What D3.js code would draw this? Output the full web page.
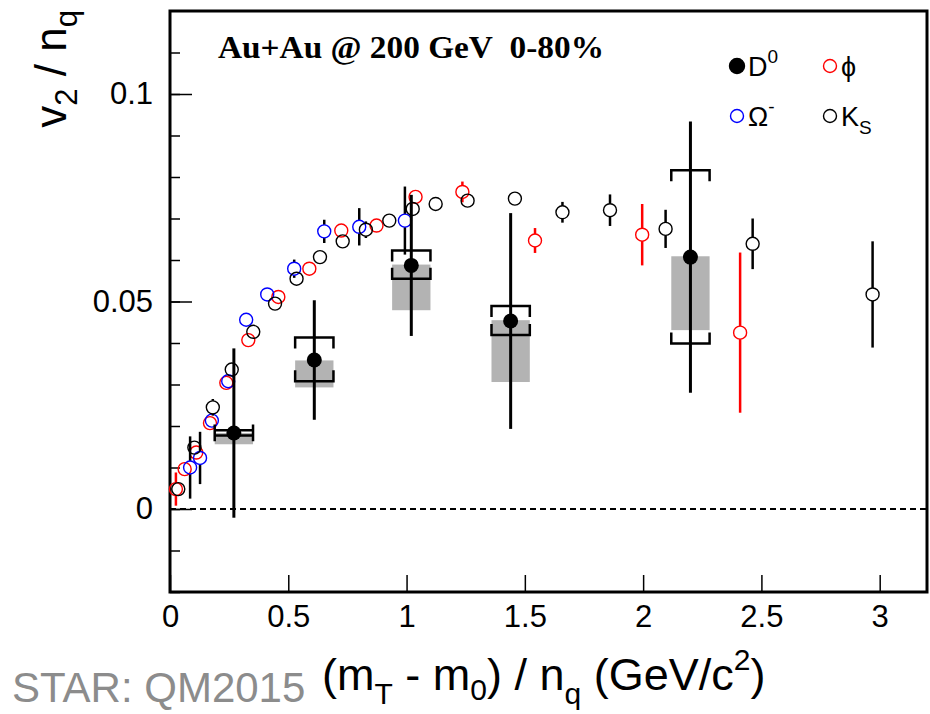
<!DOCTYPE html>
<html>
<head>
<meta charset="utf-8">
<script src="https://cdn.jsdelivr.net/npm/d3@7"></script>
<style>
  body { margin: 0; background: #fff; }
  svg { display: block; }
</style>
</head>
<body>
<div id="chart"></div>
<script>
// D0 points: value, stat error, systematic brackets and grey non-flow boxes
const d0X = [0.27, 0.61, 1.02, 1.44, 2.20];
const d0Y = [0.0183, 0.0359, 0.0587, 0.0453, 0.0607];
const d0Stat = [0.0204, 0.0144, 0.0170, 0.0260, 0.0327];
const d0SysHi = [0.0190, 0.0413, 0.0623, 0.0489, 0.0816];
const d0SysLo = [0.0177, 0.0308, 0.0555, 0.0419, 0.0399];
const d0BoxHi = [0.0183, 0.0358, 0.0589, 0.0455, 0.0609];
const d0BoxLo = [0.0156, 0.0293, 0.0479, 0.0306, 0.0431];

// phi (red open circles)
const phiX = [0.025, 0.062, 0.111, 0.169, 0.238, 0.331, 0.458, 0.589, 0.724, 0.873, 1.038, 1.236, 1.543, 1.996, 2.410];
const phiY = [0.0048, 0.0096, 0.0136, 0.0207, 0.0304, 0.0407, 0.0511, 0.0579, 0.0671, 0.0683, 0.0752, 0.0764, 0.0647, 0.0661, 0.0425];
const phiErr = [0.0040, 0.001, 0.001, 0.001, 0.001, 0.001, 0.001, 0.001, 0.001, 0.001, 0.001, 0.0025, 0.0030, 0.0074, 0.0193];

// Omega (blue open circles)
const omegaX = [0.085, 0.127, 0.177, 0.246, 0.322, 0.411, 0.525, 0.652, 0.800, 0.993];
const omegaY = [0.0100, 0.0123, 0.0213, 0.0308, 0.0456, 0.0517, 0.0579, 0.0669, 0.0680, 0.0695];
const omegaErr = [0.0075, 0.0063, 0.001, 0.001, 0.001, 0.001, 0.0022, 0.0028, 0.0045, 0.0082];

// K0s (black open circles)
const ksX = [0.035, 0.103, 0.181, 0.261, 0.352, 0.444, 0.535, 0.634, 0.730, 0.828, 0.927, 1.026, 1.123, 1.258, 1.458, 1.659, 1.860, 2.095, 2.463, 2.970];
const ksY = [0.0048, 0.0148, 0.0245, 0.0336, 0.0427, 0.0495, 0.0555, 0.0607, 0.0645, 0.0673, 0.0695, 0.0723, 0.0735, 0.0743, 0.0748, 0.0715, 0.0720, 0.0675, 0.0639, 0.0517];
const ksErr = [0.001, 0.001, 0.002, 0.001, 0.001, 0.001, 0.0015, 0.001, 0.001, 0.002, 0.001, 0.001, 0.001, 0.001, 0.001, 0.0025, 0.0038, 0.0046, 0.0061, 0.0128];

const xTicks = [0, 0.5, 1, 1.5, 2, 2.5, 3];
const yTicks = [0, 0.05, 0.1];
const yMinorTicks = d3.range(-2, 12).map(i => i / 100);

const width = 930;
const height = 714;
const margin = { top: 11, right: 3, bottom: 122, left: 170 };
const fontSans = '"Liberation Sans", Arial, Helvetica, sans-serif';

const svg = d3.select('#chart')
    .append('svg')
    .attr('width', width)
    .attr('height', height)
    .style('background', '#fff');

const x = d3.scaleLinear()
    .domain([0, 3.2])
    .range([margin.left, width - margin.right]);

const y = d3.scaleLinear()
    .domain([-0.02, 0.12])
    .range([height - margin.bottom, margin.top]);

// axes: ticks point inward like ROOT
const yMinor = svg.append('g')
    .attr('transform', `translate(${margin.left},0)`)
    .call(d3.axisLeft(y).tickValues(yMinorTicks).tickSize(-10).tickFormat(''));

const yMajor = svg.append('g')
    .attr('transform', `translate(${margin.left},0)`)
    .call(d3.axisLeft(y).tickValues(yTicks).tickSize(-22).tickPadding(17)
        .tickFormat(d => d3.format('~g')(d)));

const xAxis = svg.append('g')
    .attr('transform', `translate(0,${height - margin.bottom})`)
    .call(d3.axisBottom(x).tickValues(xTicks).tickSize(-17).tickPadding(13)
        .tickFormat(d => d3.format('~g')(d)));

[yMinor, yMajor, xAxis].forEach(g => {
    g.select('.domain').remove();
    g.selectAll('line').attr('stroke', '#000').attr('stroke-width', 1.5);
    g.selectAll('text')
        .style('font-family', fontSans)
        .style('font-size', '31px')
        .attr('fill', '#000');
});

// frame
svg.append('rect')
    .attr('x', margin.left)
    .attr('y', margin.top)
    .attr('width', width - margin.left - margin.right)
    .attr('height', height - margin.top - margin.bottom)
    .attr('fill', 'none')
    .attr('stroke', '#000')
    .attr('stroke-width', 3);

// zero line
svg.append('line')
    .attr('x1', x(0))
    .attr('x2', x(3.2))
    .attr('y1', y(0))
    .attr('y2', y(0))
    .attr('stroke', '#000')
    .attr('stroke-width', 2)
    .attr('stroke-dasharray', '6,4');

// open-marker series
const r = 6.5;
function drawOpen(xs, ys, es, color, barColor) {
    const data = xs.map((v, i) => ({ x: v, y: ys[i], e: es[i] }));
    const g = svg.append('g');
    data.forEach(d => {
        const cx = x(d.x), cy = y(d.y);
        const top = y(d.y + d.e), bot = y(d.y - d.e);
        if (cy - top > r) {
            g.append('line').attr('x1', cx).attr('x2', cx).attr('y1', top).attr('y2', cy - r)
                .attr('stroke', barColor).attr('stroke-width', 2.5);
            g.append('line').attr('x1', cx).attr('x2', cx).attr('y1', cy + r).attr('y2', bot)
                .attr('stroke', barColor).attr('stroke-width', 2.5);
        }
    });
    g.selectAll('circle')
        .data(data)
        .join('circle')
        .attr('cx', d => x(d.x))
        .attr('cy', d => y(d.y))
        .attr('r', r)
        .attr('fill', 'none')
        .attr('stroke', color)
        .attr('stroke-width', 1.4);
}

drawOpen(phiX, phiY, phiErr, '#f00', '#f00');
drawOpen(omegaX, omegaY, omegaErr, '#00f', '#000');
drawOpen(ksX, ksY, ksErr, '#000', '#000');

// D0
const d0 = d0X.map((v, i) => ({
    x: v, y: d0Y[i], e: d0Stat[i],
    sysHi: d0SysHi[i], sysLo: d0SysLo[i],
    boxHi: d0BoxHi[i], boxLo: d0BoxLo[i]
}));
const halfW = 0.081;
const leg = 11;
const gD = svg.append('g');

gD.selectAll('rect')
    .data(d0)
    .join('rect')
    .attr('x', d => x(d.x - halfW))
    .attr('width', d => x(d.x + halfW) - x(d.x - halfW))
    .attr('y', d => y(d.boxHi))
    .attr('height', d => y(d.boxLo) - y(d.boxHi))
    .attr('fill', '#b3b3b3');

gD.selectAll('path.sys')
    .data(d0)
    .join('path')
    .attr('class', 'sys')
    .attr('d', d => {
        const x0 = x(d.x - halfW), x1 = x(d.x + halfW);
        const yh = y(d.sysHi), yl = y(d.sysLo);
        return `M${x0},${yh + leg}V${yh}H${x1}V${yh + leg}` +
               `M${x0},${yl - leg}V${yl}H${x1}V${yl - leg}`;
    })
    .attr('fill', 'none')
    .attr('stroke', '#000')
    .attr('stroke-width', 2.5);

gD.selectAll('line')
    .data(d0)
    .join('line')
    .attr('x1', d => x(d.x))
    .attr('x2', d => x(d.x))
    .attr('y1', d => y(d.y + d.e))
    .attr('y2', d => y(d.y - d.e))
    .attr('stroke', '#000')
    .attr('stroke-width', 3);

gD.selectAll('circle')
    .data(d0)
    .join('circle')
    .attr('cx', d => x(d.x))
    .attr('cy', d => y(d.y))
    .attr('r', 7.5)
    .attr('fill', '#000');

// title
svg.append('text')
    .attr('x', 218)
    .attr('y', 58)
    .attr('textLength', 386)
    .attr('lengthAdjust', 'spacingAndGlyphs')
    .text('Au+Au @ 200 GeV\u00a0\u00a00-80%')
    .style('font-family', '"Liberation Serif", "Times New Roman", serif')
    .style('font-weight', 'bold')
    .style('font-size', '31px');

// legend
const legend = [
    { cx: 737, cy: 66, fill: '#000', stroke: '#000', name: 'D', sup: '0', sub: null },
    { cx: 830, cy: 66, fill: 'none', stroke: '#f00', name: '\u03d5', sup: null, sub: null },
    { cx: 737, cy: 116, fill: 'none', stroke: '#00f', name: '\u03a9', sup: '-', sub: null },
    { cx: 830, cy: 116, fill: 'none', stroke: '#000', name: 'K', sup: null, sub: 'S' }
];
legend.forEach(l => {
    svg.append('circle')
        .attr('cx', l.cx).attr('cy', l.cy)
        .attr('r', l.fill === 'none' ? 6.5 : 7.5)
        .attr('fill', l.fill)
        .attr('stroke', l.stroke)
        .attr('stroke-width', 1.4);
    const t = svg.append('text')
        .attr('x', l.cx + 11)
        .attr('y', l.cy + 10)
        .style('font-family', fontSans)
        .style('font-size', '27px');
    t.append('tspan').text(l.name);
    if (l.sup) t.append('tspan').attr('dy', -13).style('font-size', '19px').text(l.sup);
    if (l.sub) t.append('tspan').attr('dy', 8).style('font-size', '19px').text(l.sub);
});

// y axis title
const yt = svg.append('text')
    .attr('transform', 'translate(66,10) rotate(-90)')
    .attr('text-anchor', 'end')
    .style('font-family', fontSans)
    .style('font-size', '44px');
yt.append('tspan').text('v');
yt.append('tspan').attr('dy', 11).style('font-size', '31px').text('2');
yt.append('tspan').attr('dy', -11).text(' / n');
yt.append('tspan').attr('dy', 11).style('font-size', '31px').text('q');

// x axis title
const xt = svg.append('text')
    .attr('x', 322)
    .attr('y', 690)
    .style('font-family', fontSans)
    .style('font-size', '45px');
xt.append('tspan').text('(m');
xt.append('tspan').attr('dy', 14).style('font-size', '30px').text('T');
xt.append('tspan').attr('dy', -14).text(' - m');
xt.append('tspan').attr('dy', 10).style('font-size', '30px').text('0');
xt.append('tspan').attr('dy', -10).text(') / n');
xt.append('tspan').attr('dy', 14).style('font-size', '30px').text('q');
xt.append('tspan').attr('dy', -14).text(' (GeV/c');
xt.append('tspan').attr('dy', -20).style('font-size', '30px').text('2');
xt.append('tspan').attr('dy', 20).text(')');

// watermark
svg.append('text')
    .attr('x', 12)
    .attr('y', 702)
    .text('STAR: QM2015')
    .attr('fill', '#8c8c8c')
    .style('font-family', fontSans)
    .style('font-size', '42px');
</script>
</body>
</html>
